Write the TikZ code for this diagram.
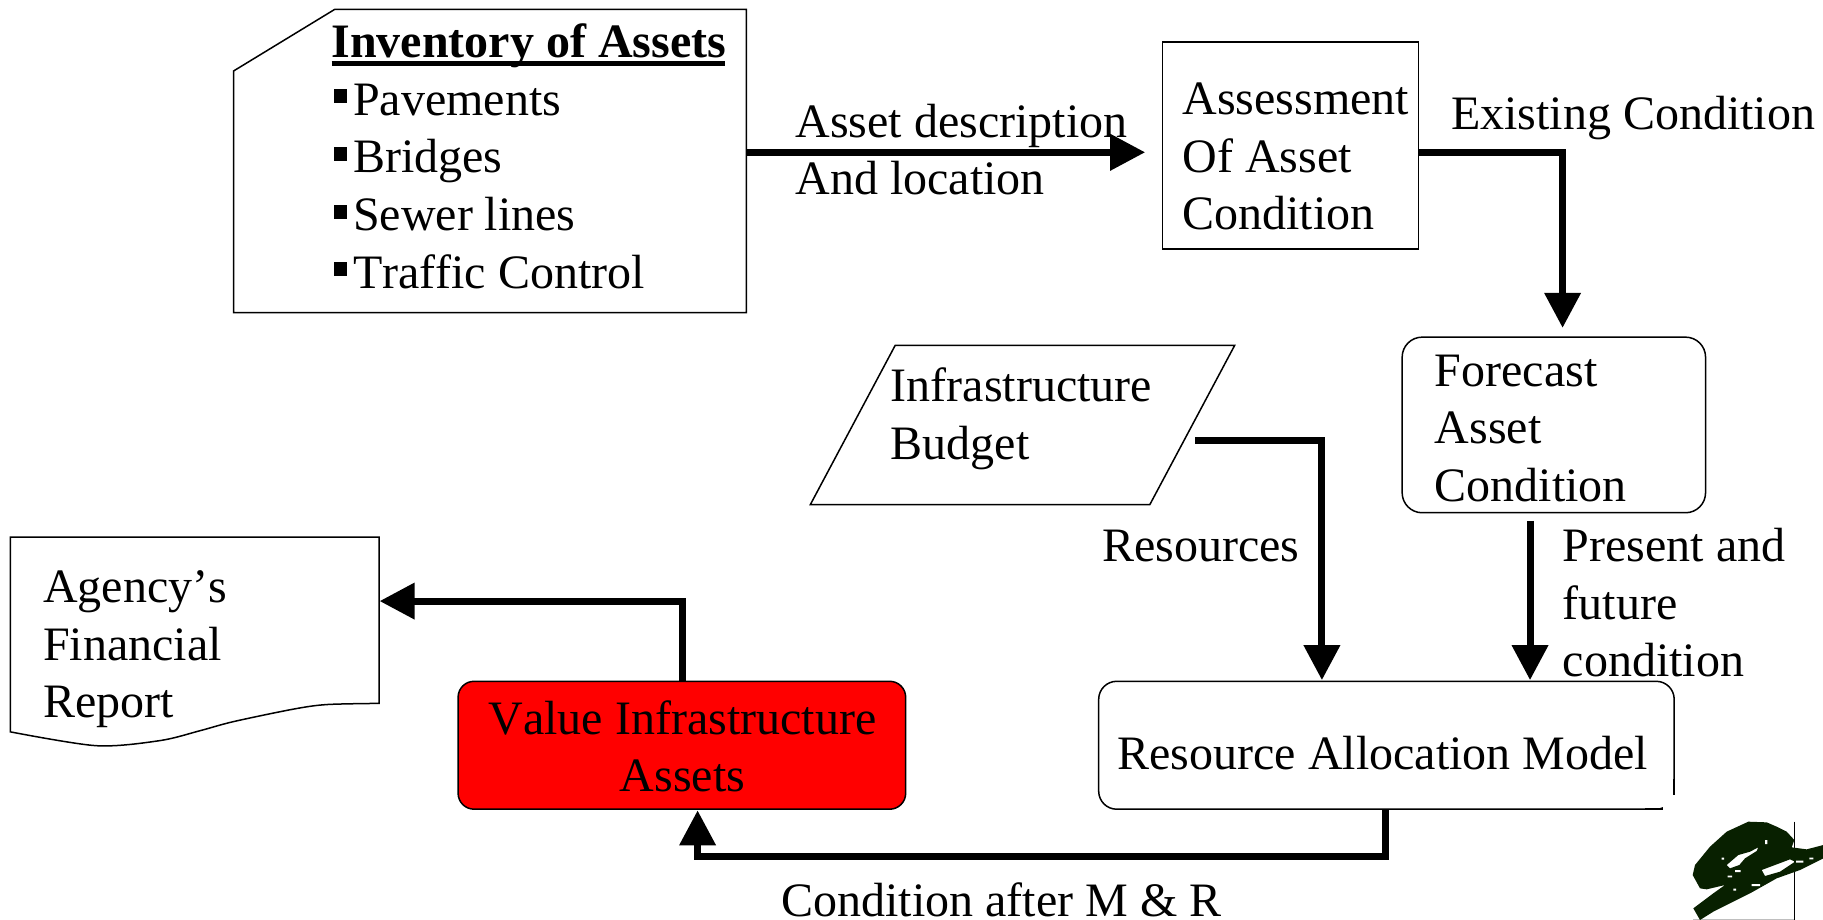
\documentclass[tikz,border=0pt]{standalone}
\usepackage{fontspec}
\setmainfont[Kerning=Off]{Liberation Serif}
\usetikzlibrary{arrows.meta}
\definecolor{sigink}{RGB}{8,32,0}
\tikzset{
  txt/.style={anchor=north west,inner sep=0pt,align=left,font=\fontsize{48}{57.6}\selectfont},
  outline/.style={draw=black,line width=1.5pt,line join=miter},
  boxnode/.style={outline,inner sep=0pt,fill=white},
  flow/.style={draw=black,line width=7pt,line join=miter,-{Triangle[length=35pt,width=35pt]}},
}
\newcommand{\sq}{\rule[12pt]{13.5pt}{14pt}\hspace{6pt}}
\newcommand{\tl}{\rule{0pt}{.7\baselineskip}}
\begin{document}
\begin{tikzpicture}[x=1.16263pt,y=-1.16263pt]
\useasboundingbox (0,0) rectangle (1568,791.3);
% inventory
\draw[outline] (201,61) -- (288,8) -- (642,8) -- (642,269) -- (201,269) -- cycle;
\coordinate (invOut) at (642,131);
\node[txt] (inv) at (285,14.8) {\tl\rlap{\rule[-8pt]{393pt}{5pt}}\textbf{Inventory of Assets}\\
  \tl\hspace*{2pt}\sq Pavements\\ \tl\hspace*{2pt}\sq Bridges\\ \tl\hspace*{2pt}\sq Sewer lines\\ \tl\hspace*{2pt}\sq Traffic Control};
% assessment
\node[boxnode,minimum width=255.8pt,minimum height=207pt] (assess) at (1110,125) {};
\node[txt] (assessT) at (1017,63.8) {\tl Assessment\\ \tl Of Asset\\ \tl Condition};
\coordinate (assessIn) at (985,131);
\coordinate (assessOut) at (1220,131);
% forecast
\node[boxnode,rounded corners=20pt,minimum width=303.4pt,minimum height=175.6pt] (fore) at (1336.5,365.5) {};
\node[txt] (foreT) at (1234,297.3) {\tl Forecast\\ \tl Asset\\ \tl Condition};
\coordinate (foreIn) at (1344,282);
\coordinate (foreOut) at (1316,448);
% budget
\draw[outline] (770,297) -- (1062,297) -- (989,434) -- (697,434) -- cycle;
\node[txt] (budT) at (766,310.8) {\tl Infrastructure\\ \tl Budget};
\coordinate (budOut) at (1028,379);
% allocation
\node[boxnode,rounded corners=18pt,minimum width=575.5pt,minimum height=127.9pt] (alloc) at (1192.5,641) {};
\fill[white] (1430,684) rectangle (1445,700);
\draw[line width=1.5pt] (1440,670) -- (1440,684);
\draw[line width=1.5pt] (1415,696) -- (1430,696);
\node[txt] (allocT) at (961,626.8) {\tl Resource Allocation Model};
\coordinate (allocInA) at (1137,585);
\coordinate (allocInB) at (1316,585);
\coordinate (allocOut) at (1192,696);
% value
\node[boxnode,fill=red,rounded corners=16pt,minimum width=447.6pt,minimum height=127.9pt] (value) at (586.5,641) {};
\node[txt,anchor=north,align=center] (valueT) at (587,596.8) {\tl Value Infrastructure\\ \tl Assets};
\coordinate (valueIn) at (600,697);
\coordinate (valueOut) at (587,586);
% report
\draw[outline] (326,605) plot[smooth,tension=.5] coordinates {(326,605) (281,606) (252,610) (200.7,620.7) (172,628.5) (137.6,637) (83,641.4) (9,629.5)} -- (9,462) -- (326,462) -- cycle;
\node[txt] (repT) at (37,483.3) {\tl Agency’s\\ \tl Financial\\ \tl Report};
\coordinate (repIn) at (326.5,517);
% connectors
\coordinate (c1) at (1344,131);
\coordinate (c2) at (1137,379);
\coordinate (c3) at (1192,737);
\coordinate (c4) at (600,737);
\coordinate (c5) at (587,517);
\draw[flow] (invOut) -- (assessIn);
\draw[flow] (assessOut) -- (c1) -- (foreIn);
\draw[flow] (budOut) -- (c2) -- (allocInA);
\draw[flow] (foreOut) -- (allocInB);
\draw[flow] (allocOut) -- (c3) -- (c4) -- (valueIn);
\draw[flow] (valueOut) -- (c5) -- (repIn);
% labels
\node[txt] (l1) at (684,83.3) {\tl Asset description\\ \tl And location};
\node[txt] (l2) at (1248,76.3) {\tl Existing Condition};
\node[txt] (l3) at (948,448.3) {\tl Resources};
\node[txt] (l4) at (1344,448.3) {\tl Present and\\ \tl future\\ \tl condition};
\node[txt] (l5) at (672,753.3) {\tl Condition after M \& R};
% signature
\begin{scope}[shift={(1419.2,679.5)},x=.33333pt,y=-.33333pt]
\draw[line width=1.5pt] (433,95) -- (433,390);
\draw[gray!50,line width=1pt] (130,389) -- (433,389);
\fill[sigink,even odd rule,line join=round]
  (295,95) -- (350,97) -- (380,110) -- (410,125) -- (433,150) -- (425,172) -- (470,178) -- (520,165) -- (520,205) -- (450,240) -- (380,265) -- (300,310) -- (190,365) -- (150,390) -- (130,355) -- (190,310) -- (225,285) -- (170,298) -- (150,295) -- (128,255) -- (135,225) -- (180,170) -- (230,125) -- cycle
  (230,225) -- (265,195) -- (300,185) -- (325,172) -- (320,183) -- (285,205) -- (268,225) -- (240,235) -- cycle
  (335,240) -- (375,225) -- (420,208) -- (435,215) -- (390,245) -- (345,258) -- cycle;
\fill[white] (345,150) rectangle (352,162) (215,203) rectangle (222,209) (233,257) rectangle (246,262) (255,240) rectangle (272,246) (305,282) rectangle (330,288) (250,296) rectangle (258,302) (438,212) rectangle (460,218) (478,203) rectangle (490,208);
\end{scope}
\end{tikzpicture}
\end{document}
